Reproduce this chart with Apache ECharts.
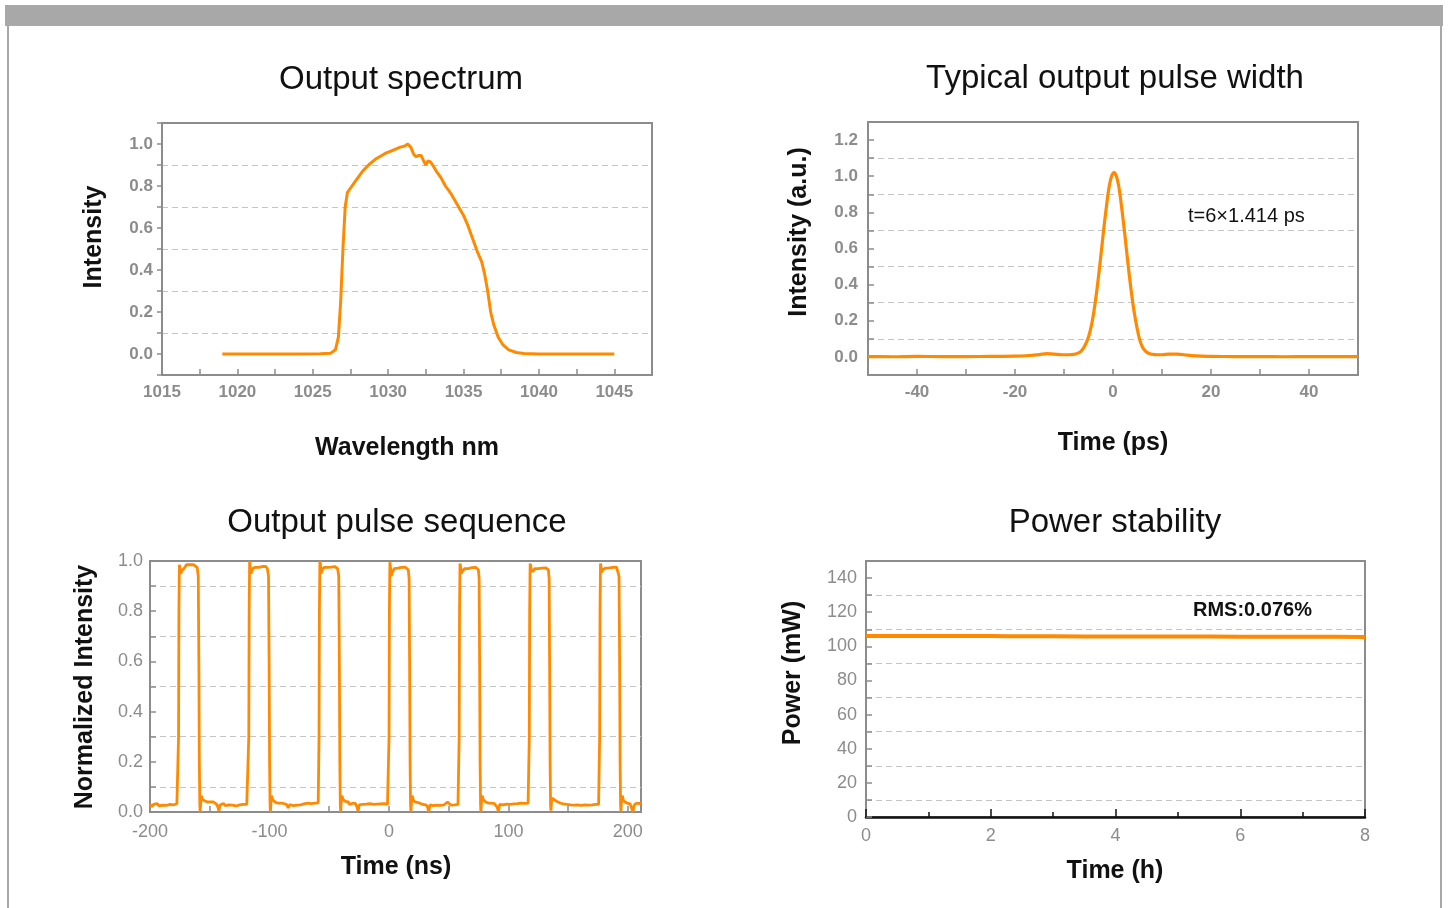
<!DOCTYPE html>
<html>
<head>
<meta charset="utf-8">
<script src="https://cdn.jsdelivr.net/npm/echarts@6/dist/echarts.min.js"></script>
<style>
html,body{margin:0;padding:0;background:#fff;}
#main{width:1450px;height:908px;}
</style>
</head>
<body>
<div id="main"></div>
<script>
// ---------- DATA ----------
const titles = ['Output spectrum', 'Typical output pulse width', 'Output pulse sequence', 'Power stability'];
const xNames = ['Wavelength nm', 'Time (ps)', 'Time (ns)', 'Time (h)'];
const yNames = ['Intensity', 'Intensity (a.u.)', 'Normalized Intensity', 'Power (mW)'];
const pulseWidthNote = 't=6×1.414 ps';
const rmsNote = 'RMS:0.076%';

// Output spectrum: wavelength (nm) and intensity
const spectrumWl = [1019, 1020, 1022, 1024, 1025.5, 1026.2, 1026.5, 1026.7, 1026.85, 1027.0, 1027.15, 1027.3, 1027.6, 1027.9, 1028.3, 1028.7, 1029.2, 1029.8, 1030.3, 1030.8, 1031.1, 1031.3, 1031.5, 1031.7, 1031.85, 1032.0, 1032.2, 1032.35, 1032.5, 1032.65, 1032.8, 1032.95, 1033.2, 1033.5, 1033.8, 1034.2, 1034.6, 1035.0, 1035.3, 1035.6, 1035.9, 1036.2, 1036.4, 1036.6, 1036.8, 1037.0, 1037.3, 1037.6, 1038.0, 1038.5, 1039.0, 1040, 1042, 1044, 1045];
const spectrumI = [0, 0, 0, 0, 0.001, 0.004, 0.02, 0.08, 0.25, 0.5, 0.7, 0.77, 0.8, 0.83, 0.87, 0.9, 0.93, 0.955, 0.97, 0.985, 0.99, 1.0, 0.985, 0.95, 0.94, 0.945, 0.945, 0.92, 0.9, 0.92, 0.915, 0.9, 0.87, 0.84, 0.8, 0.76, 0.71, 0.66, 0.61, 0.55, 0.49, 0.44, 0.38, 0.3, 0.2, 0.14, 0.08, 0.045, 0.02, 0.007, 0.002, 0, 0, 0, 0];

// Typical output pulse width: time (ps) and intensity
const pulseT = [-50, -45, -40, -35, -30, -25, -20, -17, -15, -13.5, -12, -10.5, -9, -8, -7, -6.3, -5.7, -5, -4.4, -3.8, -3.2, -2.6, -2.0, -1.4, -0.8, -0.3, 0.2, 0.7, 1.2, 1.8, 2.4, 3.0, 3.6, 4.2, 4.8, 5.4, 6.0, 6.7, 7.5, 8.5, 10, 11.5, 13, 14.5, 16, 18, 20, 25, 30, 35, 40, 45, 50];
const pulseI = [0.002, 0.001, 0.003, 0.002, 0.002, 0.003, 0.004, 0.008, 0.013, 0.018, 0.016, 0.012, 0.012, 0.014, 0.022, 0.038, 0.065, 0.11, 0.175, 0.27, 0.39, 0.53, 0.68, 0.82, 0.94, 1.0, 1.02, 1.0, 0.94, 0.82, 0.68, 0.53, 0.39, 0.27, 0.175, 0.1, 0.055, 0.03, 0.018, 0.013, 0.012, 0.016, 0.015, 0.012, 0.007, 0.004, 0.003, 0.002, 0.002, 0.001, 0.002, 0.002, 0.002];

// Output pulse sequence: [time (ns), normalized intensity]
const sequenceData = [
[-200,0.03],[-198.5,0.022],[-197,0.03],[-195.5,0.025],[-194,0.033],[-192.5,0.024],[-191,0.03],[-189.5,0.027],[-188,0.032],[-186.5,0.026],[-185,0.031],[-183.5,0.03],[-182,0.034],[-180.5,0.028],[-179,0.035],[-177.5,0.033],[-176.5,0.04],
[-176.1,0.3],[-175.8,0.8],[-175.4,0.985],[-174.8,0.97],[-174.2,0.95],[-173.5,0.96],[-172.5,0.955],[-171.5,0.97],[-170.5,0.975],[-169.5,0.985],[-168,0.99],[-166.5,0.985],[-165,0.988],[-163.5,0.985],[-162,0.982],[-160.5,0.975],[-159.6,0.94],[-159.1,0.6],[-158.7,0.2],[-158.3,0.03],[-158.0,0.0],[-157.5,0.04],[-157.0,0.065],[-156.2,0.05],[-155.3,0.055],[-154.3,0.045],[-153.2,0.048],[-152,0.04],[-150.8,0.035],[-149.5,0.04],[-148.2,0.036],[-147,0.04],[-145.6,0.033],[-144.2,0.03],[-143.2,0.02],[-142.3,0.004],[-141.4,0.028],[-140,0.026],[-138.5,0.034],[-137,0.025],[-135.5,0.03],[-134,0.028],[-132.5,0.033],[-131,0.027],[-129.5,0.03],[-128,0.024],[-126.5,0.031],[-125,0.028],[-123.5,0.034],[-122,0.03],[-120.5,0.033],[-119,0.03],[-117.8,0.036],
[-117.3,0.3],[-117,0.8],[-116.6,1.0],[-116.1,0.98],[-115.5,0.95],[-114.8,0.955],[-114,0.97],[-113,0.965],[-112,0.975],[-110.5,0.97],[-109,0.975],[-107.5,0.972],[-106,0.978],[-104.5,0.975],[-103,0.978],[-101.8,0.97],[-100.8,0.94],[-100.3,0.6],[-99.9,0.2],[-99.5,0.03],[-99.2,0.0],[-98.7,0.04],[-98.2,0.065],[-97.4,0.05],[-96.4,0.045],[-95.3,0.04],[-94.2,0.042],[-93,0.035],[-91.8,0.03],[-90.6,0.035],[-89.4,0.03],[-88.2,0.034],[-87,0.028],[-85.6,0.03],[-84.3,0.016],[-83,0.03],[-81.5,0.032],[-80,0.025],[-78.5,0.03],[-77,0.027],[-75.5,0.033],[-74,0.028],[-72.5,0.025],[-71,0.032],[-69.5,0.028],[-68,0.035],[-66.5,0.03],[-65,0.033],[-63.5,0.028],[-62,0.035],[-60.5,0.03],[-59.2,0.036],
[-58.5,0.3],[-58.2,0.8],[-57.8,1.0],[-57.3,0.985],[-56.7,0.95],[-56,0.965],[-55.2,0.96],[-54.3,0.975],[-53,0.97],[-51.5,0.975],[-50,0.972],[-48.5,0.976],[-47,0.974],[-45.5,0.978],[-44,0.975],[-43,0.97],[-42,0.94],[-41.5,0.6],[-41.1,0.2],[-40.7,0.03],[-40.4,0.0],[-39.9,0.04],[-39.3,0.065],[-38.5,0.05],[-37.5,0.045],[-36.4,0.042],[-35.2,0.035],[-34,0.04],[-32.8,0.03],[-31.6,0.028],[-30.5,0.035],[-29.3,0.03],[-28,0.034],[-26.8,0.02],[-25.8,0.003],[-24.9,0.028],[-23.5,0.026],[-22,0.03],[-20.5,0.025],[-19,0.031],[-17.5,0.027],[-16,0.033],[-14.5,0.028],[-13,0.03],[-11.5,0.024],[-10,0.031],[-8.5,0.027],[-7,0.032],[-5.5,0.026],[-4,0.033],[-2.5,0.028],[-1.2,0.03],[-0.2,0.036],
[0.1,0.3],[0.4,0.8],[0.8,0.995],[1.3,0.975],[2.0,0.94],[2.8,0.955],[3.6,0.96],[4.5,0.97],[6,0.968],[7.5,0.972],[9,0.97],[10.5,0.975],[12,0.972],[13.5,0.976],[15,0.973],[16.2,0.965],[16.9,0.93],[17.3,0.6],[17.7,0.2],[18.1,0.03],[18.4,0.0],[18.9,0.04],[19.5,0.065],[20.3,0.05],[21.3,0.042],[22.4,0.045],[23.6,0.038],[24.8,0.04],[26,0.035],[27.2,0.038],[28.4,0.03],[29.6,0.033],[31,0.028],[32.3,0.02],[33.3,0.0],[34.3,0.028],[35.5,0.03],[37,0.025],[38.5,0.032],[40,0.027],[41.5,0.03],[43,0.026],[44.5,0.033],[46,0.028],[47.5,0.03],[49,0.04],[50.5,0.035],[52,0.027],[53.5,0.032],[55,0.028],[56.5,0.033],[57.8,0.03],[58.5,0.036],
[58.8,0.3],[59.1,0.8],[59.5,0.99],[60,0.975],[60.7,0.95],[61.5,0.96],[62.5,0.955],[63.5,0.97],[65,0.975],[66.5,0.97],[68,0.976],[69.5,0.974],[71,0.978],[72.5,0.975],[74,0.977],[74.9,0.965],[75.5,0.93],[75.9,0.6],[76.3,0.2],[76.7,0.03],[77,0.0],[77.5,0.04],[78.1,0.065],[78.9,0.05],[79.9,0.045],[81,0.04],[82.2,0.042],[83.4,0.035],[84.6,0.032],[85.8,0.035],[87,0.03],[88.3,0.033],[89.5,0.028],[90.7,0.018],[91.7,0.002],[92.7,0.03],[94,0.033],[95.5,0.028],[97,0.025],[98.5,0.031],[100,0.026],[101.5,0.03],[103,0.025],[104.5,0.032],[106,0.027],[107.5,0.033],[109,0.028],[110.5,0.035],[112,0.03],[113.5,0.034],[115,0.029],[116.5,0.035],[117.3,0.04],
[117.5,0.3],[117.8,0.8],[118.2,0.99],[118.7,0.98],[119.3,0.96],[120,0.965],[121,0.96],[122,0.97],[123.5,0.972],[125,0.97],[126.5,0.975],[128,0.972],[129.5,0.976],[131,0.973],[132.5,0.975],[133.5,0.965],[134.1,0.93],[134.5,0.6],[134.9,0.2],[135.3,0.03],[135.6,0.005],[136.1,0.04],[136.7,0.055],[137.5,0.05],[138.5,0.048],[139.6,0.045],[140.8,0.042],[142,0.04],[143.3,0.036],[144.6,0.038],[146,0.032],[147.5,0.035],[149,0.03],[150.5,0.033],[152,0.028],[153.5,0.032],[155,0.027],[156.5,0.031],[158,0.028],[159.5,0.03],[161,0.026],[162.5,0.032],[164,0.028],[165.5,0.033],[167,0.027],[168.5,0.03],[170,0.028],[171.5,0.034],[173,0.03],[174.5,0.033],[175.5,0.03],[176.2,0.036],
[176.4,0.3],[176.7,0.8],[177.1,0.99],[177.6,0.975],[178.2,0.955],[179,0.965],[180,0.97],[181.5,0.972],[183,0.975],[184.5,0.973],[186,0.977],[187.5,0.975],[189,0.978],[190.5,0.976],[191.8,0.97],[192.6,0.94],[193.1,0.6],[193.5,0.2],[193.9,0.03],[194.2,0.0],[194.7,0.045],[195.3,0.065],[196.1,0.05],[197.1,0.042],[198.3,0.04],[199.5,0.035],[200.7,0.038],[201.9,0.032],[203.2,0.015],[204.2,0.0],[205.2,0.025],[206.5,0.033],[208,0.028],[209.5,0.035],[211,0.03]
];

// Power stability: time (h) and power (mW)
const powerT = [0, 0.5, 1, 1.5, 2, 2.3, 2.5, 3, 3.5, 4, 4.5, 5, 5.5, 6, 6.5, 7, 7.5, 8];
const powerP = [106.1, 106.1, 106.05, 106.0, 106.0, 105.9, 105.85, 105.85, 105.8, 105.8, 105.75, 105.75, 105.7, 105.6, 105.6, 105.55, 105.55, 105.5];

// ---------- CHART ----------
const FONT = '"Liberation Sans", Arial, sans-serif';
const ORANGE = '#ff8a00';
const BOX = '#8c8c8c';
const LABEL = '#8c8c8c';
const D = '#c4c4c4';
const T = 'rgba(0,0,0,0)';

const zip = (a, b) => a.map((v, i) => [v, b[i]]);

function evenTenth(max) {
  return v => (Math.round(v * 10) % 2 === 0 && v > -0.001 && v < max + 0.001) ? v.toFixed(1) : '';
}

function xAxisBase(gi, cfg) {
  return Object.assign({
    gridIndex: gi, type: 'value',
    axisLine: { show: true, onZero: false, lineStyle: { color: BOX, width: 2 } },
    axisTick: { show: true, inside: true, length: 6, lineStyle: { color: BOX, width: 1.5 } },
    splitLine: { show: false }
  }, cfg);
}
function yAxisBase(gi, cfg) {
  return Object.assign({
    gridIndex: gi, type: 'value',
    axisLine: { show: true, onZero: false, lineStyle: { color: BOX, width: 2 } },
    axisTick: { show: true, inside: true, length: 6, lineStyle: { color: BOX, width: 1.5 } }
  }, cfg);
}
const boldLbl = (extra) => Object.assign({ fontFamily: FONT, fontWeight: 'bold', fontSize: 17, color: LABEL }, extra);
const regLbl = (extra) => Object.assign({ fontFamily: FONT, fontSize: 18, color: LABEL }, extra);
const dashed = (colors) => ({ show: true, lineStyle: { color: colors, type: [6, 4], width: 1.2 } });

const gridStyle = { show: true, borderColor: BOX, borderWidth: 2, backgroundColor: 'transparent' };

function txt(x, y, text, font, extra) {
  return { type: 'text', x: x, y: y, silent: true, style: Object.assign({ text: text, font: font, fill: '#111', textAlign: 'center', textVerticalAlign: 'middle' }, extra || {}) };
}
function vtxt(x, y, text) {
  const t = txt(x, y, text, 'bold 25px ' + FONT);
  t.rotation = Math.PI / 2;
  return t;
}

const option = {
  animation: false,
  backgroundColor: '#fff',
  grid: [
    Object.assign({ left: 162, top: 123, width: 490, height: 252 }, gridStyle),
    Object.assign({ left: 868, top: 122, width: 490, height: 253 }, gridStyle),
    Object.assign({ left: 150, top: 561, width: 491, height: 251 }, gridStyle),
    Object.assign({ left: 866, top: 561, width: 499, height: 256 }, gridStyle)
  ],
  xAxis: [
    xAxisBase(0, { min: 1015, max: 1047.5, interval: 2.5,
      axisLabel: boldLbl({ margin: 9, formatter: v => (v % 5 === 0 ? String(v) : '') }) }),
    xAxisBase(1, { min: -50, max: 50, interval: 10,
      axisLabel: boldLbl({ margin: 9, formatter: v => (v % 20 === 0 ? String(v) : '') }) }),
    xAxisBase(2, { min: -200, max: 211, interval: 50,
      axisLabel: regLbl({ margin: 11, formatter: v => (v % 100 === 0 ? String(v) : '') }) }),
    xAxisBase(3, { min: 0, max: 8, interval: 2,
      axisLine: { show: true, onZero: false, lineStyle: { color: '#111', width: 2.5 } },
      axisTick: { show: true, inside: true, length: 8, lineStyle: { color: '#111', width: 1.5 } },
      minorTick: { show: true, splitNumber: 2, length: 5, lineStyle: { color: '#111', width: 1.5 } },
      axisLabel: regLbl({ margin: 10 }) })
  ],
  yAxis: [
    yAxisBase(0, { min: -0.1, max: 1.1, interval: 0.1,
      axisTick: { show: true, inside: false, length: 5, lineStyle: { color: BOX, width: 1.5 } },
      axisLabel: boldLbl({ margin: 9, formatter: evenTenth(1.0) }),
      splitLine: dashed([T, T, D, T, D, T, D, T, D, T, D, T, T]) }),
    yAxisBase(1, { min: -0.1, max: 1.3, interval: 0.1,
      axisLabel: boldLbl({ margin: 10, formatter: evenTenth(1.2) }),
      splitLine: dashed([T, T, D, T, D, T, D, T, D, T, D, T, D, T, T]) }),
    yAxisBase(2, { min: 0, max: 1, interval: 0.1,
      axisLabel: regLbl({ margin: 7, formatter: evenTenth(1.0) }),
      splitLine: dashed([T, D, T, D, T, D, T, D, T, D, T]) }),
    yAxisBase(3, { min: 0, max: 150, interval: 10,
      axisLabel: regLbl({ margin: 9, formatter: v => (v % 20 === 0 && v <= 140 ? String(v) : '') }),
      splitLine: dashed([T, D, T, D, T, D, T, D, T, D, T, D, T, D, T, T]) })
  ],
  series: [
    { type: 'line', xAxisIndex: 0, yAxisIndex: 0, data: zip(spectrumWl, spectrumI), showSymbol: false,
      lineStyle: { color: ORANGE, width: 3 }, itemStyle: { color: ORANGE } },
    { type: 'line', xAxisIndex: 1, yAxisIndex: 1, data: zip(pulseT, pulseI), showSymbol: false, smooth: 0.3,
      lineStyle: { color: ORANGE, width: 3.2 }, itemStyle: { color: ORANGE } },
    { type: 'line', xAxisIndex: 2, yAxisIndex: 2, data: sequenceData, showSymbol: false,
      lineStyle: { color: ORANGE, width: 2.8 }, itemStyle: { color: ORANGE } },
    { type: 'line', xAxisIndex: 3, yAxisIndex: 3, data: zip(powerT, powerP), showSymbol: false,
      lineStyle: { color: ORANGE, width: 4 }, itemStyle: { color: ORANGE } }
  ],
  graphic: [
    { type: 'rect', shape: { x: 5, y: 5, width: 1438, height: 21 }, style: { fill: '#a8a8a8' }, silent: true },
    { type: 'rect', shape: { x: 7, y: 26, width: 2, height: 882 }, style: { fill: '#a8a8a8' }, silent: true },
    { type: 'rect', shape: { x: 1440, y: 26, width: 2, height: 882 }, style: { fill: '#a8a8a8' }, silent: true },
    txt(401, 80, titles[0], '33px ' + FONT),
    txt(1115, 79, titles[1], '33px ' + FONT),
    txt(397, 523, titles[2], '33px ' + FONT),
    txt(1115, 523, titles[3], '33px ' + FONT),
    txt(407, 448, xNames[0], 'bold 25px ' + FONT),
    txt(1113, 443, xNames[1], 'bold 25px ' + FONT),
    txt(396, 867, xNames[2], 'bold 25px ' + FONT),
    txt(1115, 871, xNames[3], 'bold 25px ' + FONT),
    vtxt(94, 237, yNames[0]),
    vtxt(799, 232, yNames[1]),
    vtxt(85, 687, yNames[2]),
    vtxt(793, 673, yNames[3]),
    txt(1188, 216, pulseWidthNote, '20px ' + FONT, { textAlign: 'left' }),
    txt(1193, 610, rmsNote, 'bold 20px ' + FONT, { textAlign: 'left' })
  ]
};

const chart = echarts.init(document.getElementById('main'), null, { renderer: 'canvas' });
chart.setOption(option);
</script>
</body>
</html>
